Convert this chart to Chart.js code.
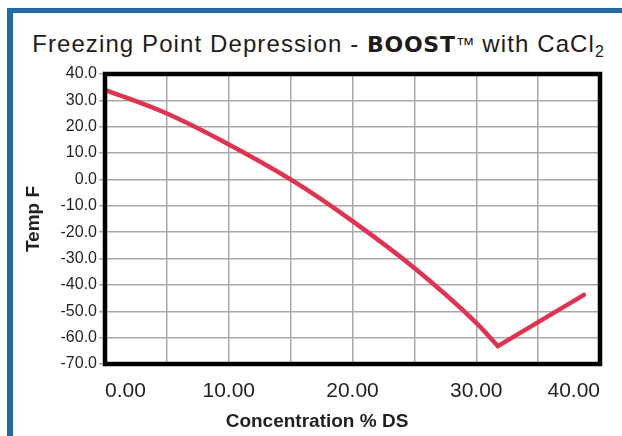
<!DOCTYPE html>
<html>
<head>
<meta charset="utf-8">
<script src="https://cdn.jsdelivr.net/npm/chart.js@4.4.1/dist/chart.umd.min.js"></script>
<style>
  html, body { margin: 0; padding: 0; background: #ffffff; }
  #wrap { position: relative; width: 622px; height: 436px; overflow: hidden; background: #ffffff; }
  #frame { position: absolute; left: 7px; top: 8px; right: -10px; bottom: -10px;
           border-top: 5px solid #1f6ca6; border-left: 6px solid #1f6ca6; }
  #title { position: absolute; left: 14px; right: 0; top: 30px; text-align: center;
           font-family: "Liberation Sans", Arial, sans-serif; font-size: 24px; color: #1e1b1c;
           white-space: nowrap; letter-spacing: 1.1px; line-height: 28px; }
  #title .brand { font-family: "DejaVu Sans", sans-serif; font-weight: bold; font-size: 22px; letter-spacing: 0.7px; }
  #title .tm { font-size: 19px; position: relative; top: -1px; letter-spacing: 0; }
  #title .sub { font-size: 16px; position: relative; top: 5px; letter-spacing: 0; }
  #chartBox { position: absolute; left: 0; top: 0; width: 622px; height: 436px; }
</style>
</head>
<body>
<div id="wrap">
  <div id="frame"></div>
  <div id="title">Freezing Point Depression - <span class="brand">BOOST</span><span class="tm">™</span> with CaCl<span class="sub">2</span></div>
  <div id="chartBox"><canvas id="c" width="622" height="436"></canvas></div>
</div>
<script>
// ---- data ----
const concentration = [0, 5, 10, 15, 20, 25, 30, 31.75];
const tempF = [34, 25, 13.3, 0, -15.8, -33.6, -54.4, -63.2];
const concentrationHigh = [31.75, 38.7];
const tempFHigh = [-63.2, -43.8];

const yTickValues = [40, 30, 20, 10, 0, -10, -20, -30, -40, -50, -60, -70];
const xGridValues = [0, 5, 10, 15, 20, 25, 30, 35, 40];
const xLabelValues = [0, 10, 20, 30, 40];

const xTitle = 'Concentration % DS';
const yTitle = 'Temp F';

const toPoints = (xs, ys) => xs.map((x, i) => ({ x: x, y: ys[i] }));

const lineColor = '#e1324f';
const gridColor = '#a9a9a9';
const textColor = '#231f20';
const fontFamily = '"Liberation Sans", Arial, sans-serif';

const frameBox = {
  id: 'frameBox',
  afterDatasetsDraw(chart) {
    const { ctx, chartArea: a } = chart;
    ctx.save();
    ctx.strokeStyle = '#000000';
    ctx.lineWidth = 4.5;
    ctx.strokeRect(a.left, a.top, a.right - a.left, a.bottom - a.top);
    ctx.restore();
  }
};

new Chart(document.getElementById('c'), {
  type: 'line',
  data: {
    datasets: [
      {
        data: toPoints(concentration, tempF),
        borderColor: lineColor,
        borderWidth: 4.5,
        borderCapStyle: 'round',
        pointRadius: 0,
        cubicInterpolationMode: 'monotone',
        fill: false
      },
      {
        data: toPoints(concentrationHigh, tempFHigh),
        borderColor: lineColor,
        borderWidth: 4.5,
        borderCapStyle: 'round',
        pointRadius: 0,
        tension: 0,
        fill: false
      }
    ]
  },
  options: {
    responsive: false,
    animation: false,
    events: [],
    layout: { padding: { left: 12, right: 0, top: 74, bottom: 0 } },
    plugins: {
      legend: { display: false },
      tooltip: { enabled: false },
      title: {
        display: true,
        position: 'bottom',
        text: xTitle,
        color: textColor,
        font: { family: fontFamily, size: 19, weight: 'bold' },
        padding: { top: 0, bottom: 3 }
      }
    },
    scales: {
      x: {
        type: 'linear',
        min: 0,
        max: 40,
        afterBuildTicks(scale) { scale.ticks = xGridValues.map(v => ({ value: v })); },
        afterFit(scale) { scale.height = 46.2; },
        grid: { color: gridColor, lineWidth: 1.5, drawTicks: false },
        border: { display: false },
        ticks: {
          autoSkip: false,
          maxRotation: 0,
          align: 'inner',
          padding: 15,
          color: textColor,
          font: { family: fontFamily, size: 21 },
          callback: (v) => xLabelValues.includes(v) ? Number(v).toFixed(2) : ''
        }
      },
      y: {
        type: 'linear',
        min: -70,
        max: 40,
        afterBuildTicks(scale) { scale.ticks = yTickValues.map(v => ({ value: v })); },
        afterFit(scale) { scale.width = 93; },
        grid: { color: gridColor, lineWidth: 1.5, drawTicks: true, tickLength: 6 },
        border: { display: false },
        title: {
          display: true,
          text: yTitle,
          color: textColor,
          font: { family: fontFamily, size: 19, weight: 'bold' },
          padding: { top: 10, bottom: 0 }
        },
        ticks: {
          padding: 2,
          color: textColor,
          font: { family: fontFamily, size: 16 },
          callback: (v) => Number(v).toFixed(1)
        }
      },
      yRight: {
        type: 'linear',
        position: 'right',
        display: true,
        grid: { display: false },
        border: { display: false },
        ticks: { display: false },
        afterFit(scale) { scale.width = 22; }
      }
    }
  },
  plugins: [frameBox]
});
</script>
</body>
</html>
